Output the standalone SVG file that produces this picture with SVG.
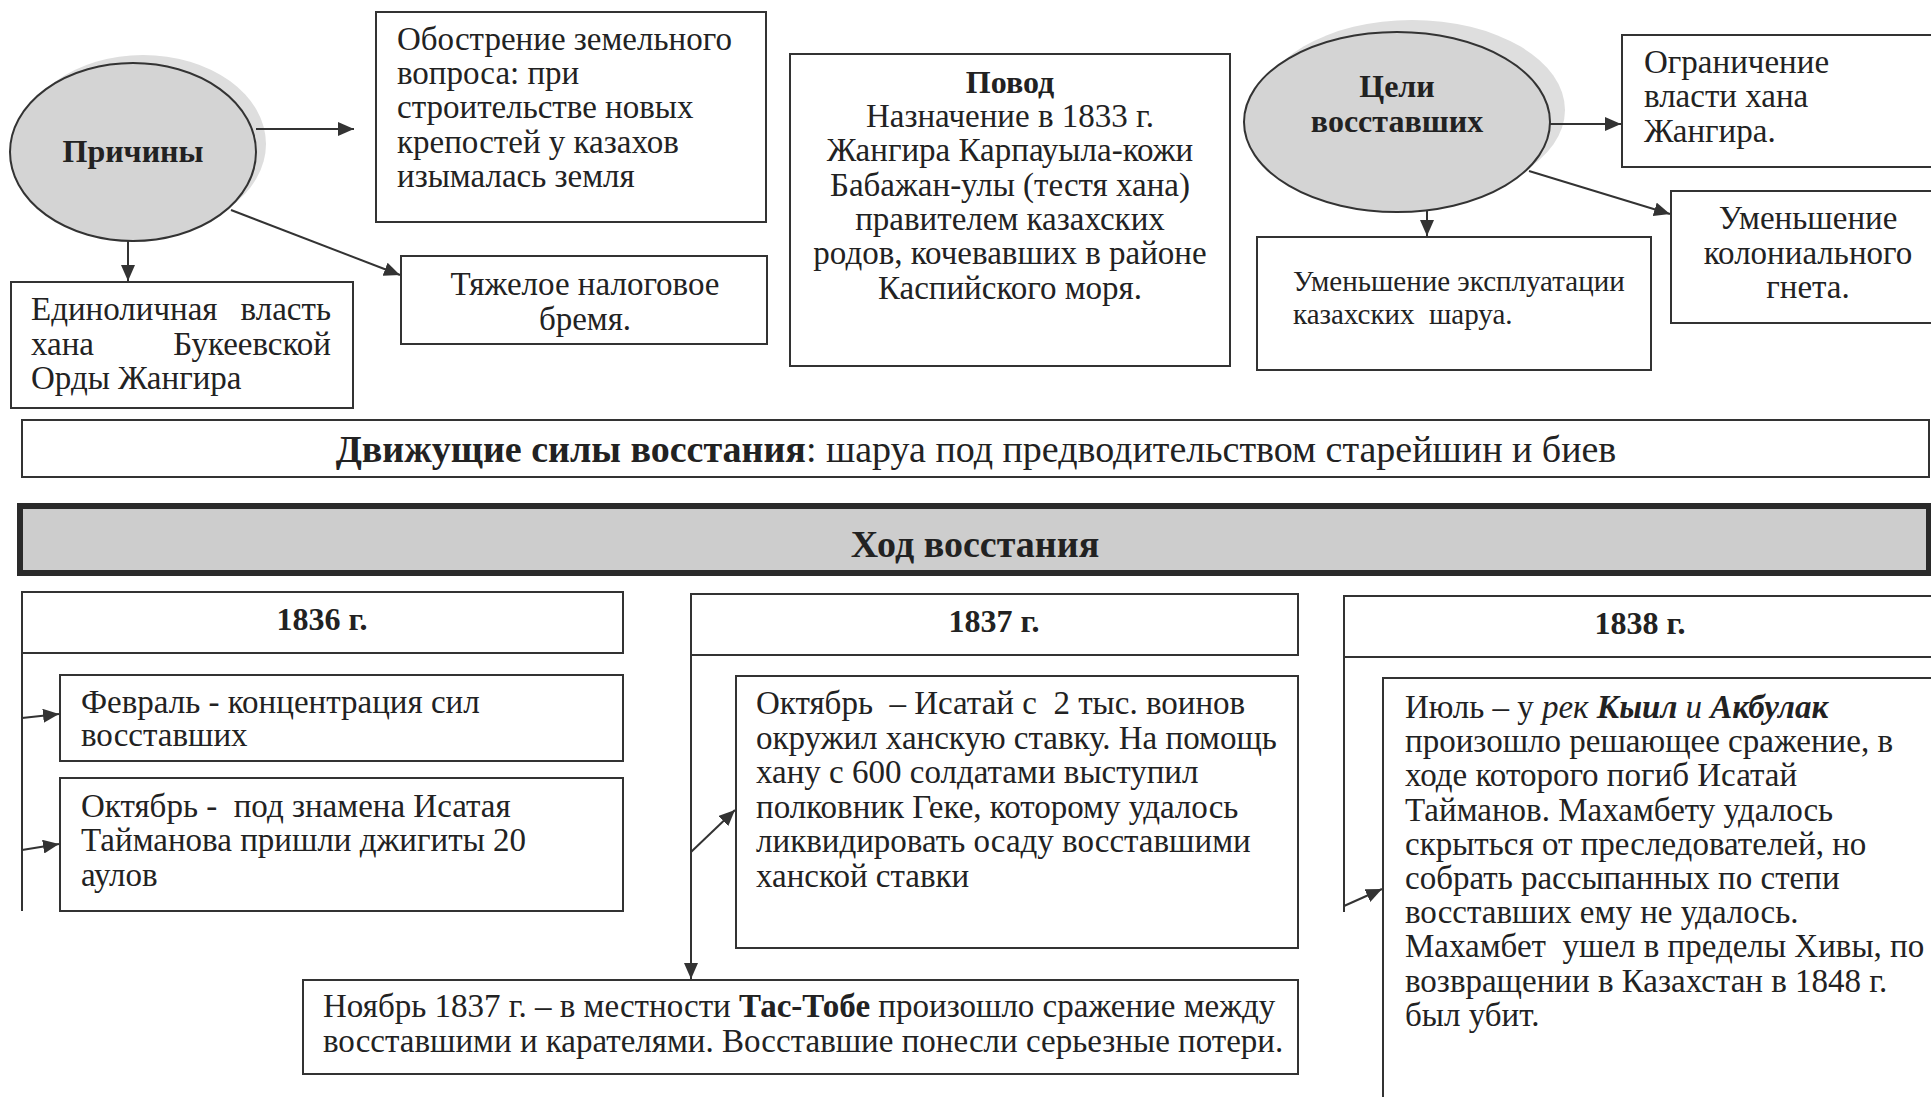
<svg xmlns="http://www.w3.org/2000/svg" width="1931" height="1097" viewBox="0 0 1931 1097">
<defs>
<style>
.t{font-family:"Liberation Serif","Times New Roman",serif;font-size:33px;fill:#222}
.b{font-weight:bold}
.h{font-size:32px}
.i{font-style:italic}
.m{text-anchor:middle}
.e{text-anchor:end}
.box{fill:#fff;stroke:#333;stroke-width:2}
.c{stroke:#333;stroke-width:2;fill:none;marker-end:url(#ah)}
.ln{stroke:#333;stroke-width:2;fill:none}
</style>
<marker id="ah" markerUnits="userSpaceOnUse" markerWidth="16" markerHeight="14" refX="16" refY="7" orient="auto">
<path d="M0,0 L16,7 L0,14 z" fill="#333"/>
</marker>
</defs>
<rect width="1931" height="1097" fill="#fff"/>

<g id="prichiny">
<ellipse cx="143" cy="144" rx="123" ry="89" fill="#dedede"/>
<ellipse cx="133" cy="152" rx="123" ry="89" fill="#d4d4d4" stroke="#333" stroke-width="2"/>
<text class="t b h m" x="133" y="162">Причины</text>
</g>

<g id="obostrenie">
<rect class="box" x="376" y="12" width="390" height="210"/>
<text class="t" x="397" y="50">Обострение земельного</text>
<text class="t" x="397" y="84">вопроса: при</text>
<text class="t" x="397" y="118">строительстве новых</text>
<text class="t" x="397" y="153">крепостей у казахов</text>
<text class="t" x="397" y="187">изымалась земля</text>
</g>

<g id="edinolichnaya">
<rect class="box" x="11" y="282" width="342" height="126"/>
<text class="t" x="31" y="320">Единоличная</text>
<text class="t e" x="331" y="320">власть</text>
<text class="t" x="31" y="355">хана</text>
<text class="t e" x="331" y="355">Букеевской</text>
<text class="t" x="31" y="389">Орды Жангира</text>
</g>

<g id="nalog">
<rect class="box" x="401" y="256" width="366" height="88"/>
<text class="t m" x="585" y="295">Тяжелое налоговое</text>
<text class="t m" x="585" y="330">бремя.</text>
</g>

<g id="povod">
<rect class="box" x="790" y="54" width="440" height="312"/>
<text class="t b h m" x="1010" y="93">Повод</text>
<text class="t m" x="1010" y="127">Назначение в 1833 г.</text>
<text class="t m" x="1010" y="161">Жангира Карпауыла-кожи</text>
<text class="t m" x="1010" y="196">Бабажан-улы (тестя хана)</text>
<text class="t m" x="1010" y="230">правителем казахских</text>
<text class="t m" x="1010" y="264">родов, кочевавших в районе</text>
<text class="t m" x="1010" y="299">Каспийского моря.</text>
</g>

<g id="celi">
<ellipse cx="1412" cy="110" rx="153" ry="90" fill="#dedede"/>
<ellipse cx="1397" cy="122" rx="153" ry="90" fill="#d4d4d4" stroke="#333" stroke-width="2"/>
<text class="t b h m" x="1397" y="97">Цели</text>
<text class="t b h m" x="1397" y="132">восставших</text>
</g>

<g id="ogranichenie">
<rect class="box" x="1622" y="35" width="320" height="132"/>
<text class="t" x="1644" y="73">Ограничение</text>
<text class="t" x="1644" y="107">власти хана</text>
<text class="t" x="1644" y="142">Жангира.</text>
</g>

<g id="ekspluataciya">
<rect class="box" x="1257" y="237" width="394" height="133"/>
<text class="t" x="1293" y="291" style="font-size:29px">Уменьшение эксплуатации</text>
<text class="t" x="1293" y="324" style="font-size:29px" xml:space="preserve">казахских  шаруа.</text>
</g>

<g id="kolonialnyi">
<rect class="box" x="1671" y="191" width="270" height="132"/>
<text class="t m" x="1808" y="229">Уменьшение</text>
<text class="t m" x="1808" y="264">колониального</text>
<text class="t m" x="1808" y="298">гнета.</text>
</g>

<g id="dvizhushchie">
<rect class="box" x="22" y="420" width="1907" height="57"/>
<text class="t m" x="976" y="462" style="font-size:38px"><tspan class="b">Движущие силы восстания</tspan>: шаруа под предводительством старейшин и биев</text>
</g>

<g id="hod">
<rect x="20" y="506" width="1909" height="67" fill="#cdcdcd" stroke="#2a2a2a" stroke-width="6"/>
<text class="t b m" x="975" y="557" style="font-size:38px">Ход восстания</text>
</g>

<g id="y1836">
<rect class="box" x="22" y="592" width="601" height="61"/>
<text class="t b h m" x="322" y="630">1836 г.</text>
</g>
<g id="fevral1836">
<rect class="box" x="60" y="675" width="563" height="86"/>
<text class="t" x="81" y="713">Февраль - концентрация сил</text>
<text class="t" x="81" y="746">восставших</text>
</g>
<g id="oktyabr1836">
<rect class="box" x="60" y="778" width="563" height="133"/>
<text class="t" x="81" y="817" xml:space="preserve">Октябрь -  под знамена Исатая</text>
<text class="t" x="81" y="851">Тайманова пришли джигиты 20</text>
<text class="t" x="81" y="886">аулов</text>
</g>

<g id="y1837">
<rect class="box" x="691" y="594" width="607" height="61"/>
<text class="t b h m" x="994" y="632">1837 г.</text>
</g>
<g id="oktyabr1837">
<rect class="box" x="736" y="676" width="562" height="272"/>
<text class="t" x="756" y="714" xml:space="preserve">Октябрь  – Исатай с  2 тыс. воинов</text>
<text class="t" x="756" y="749">окружил ханскую ставку. На помощь</text>
<text class="t" x="756" y="783">хану с 600 солдатами выступил</text>
<text class="t" x="756" y="818">полковник Геке, которому удалось</text>
<text class="t" x="756" y="852">ликвидировать осаду восставшими</text>
<text class="t" x="756" y="887">ханской ставки</text>
</g>
<g id="noyabr1837">
<rect class="box" x="303" y="980" width="995" height="94"/>
<text class="t" x="323" y="1017">Ноябрь 1837 г. – в местности <tspan class="b">Тас-Тобе</tspan> произошло сражение между</text>
<text class="t" x="323" y="1052">восставшими и карателями. Восставшие понесли серьезные потери.</text>
</g>

<g id="y1838">
<rect class="box" x="1344" y="596" width="600" height="61"/>
<text class="t b h m" x="1640" y="634">1838 г.</text>
</g>
<g id="iyul1838">
<rect class="box" x="1383" y="678" width="560" height="440"/>
<text class="t" x="1405" y="718">Июль – у <tspan class="i">рек </tspan><tspan class="b i">Кыил</tspan><tspan class="i"> и </tspan><tspan class="b i">Акбулак</tspan></text>
<text class="t" x="1405" y="752">произошло решающее сражение, в</text>
<text class="t" x="1405" y="786">ходе которого погиб Исатай</text>
<text class="t" x="1405" y="821">Тайманов. Махамбету удалось</text>
<text class="t" x="1405" y="855">скрыться от преследователей, но</text>
<text class="t" x="1405" y="889">собрать рассыпанных по степи</text>
<text class="t" x="1405" y="923">восставших ему не удалось.</text>
<text class="t" x="1405" y="957" xml:space="preserve">Махамбет  ушел в пределы Хивы, по</text>
<text class="t" x="1405" y="992">возвращении в Казахстан в 1848 г.</text>
<text class="t" x="1405" y="1026">был убит.</text>
</g>

<g id="connectors">
<line class="c" x1="256" y1="129" x2="354" y2="129"/>
<line class="c" x1="128" y1="240" x2="128" y2="281"/>
<line class="c" x1="231" y1="210" x2="400" y2="275"/>
<line class="c" x1="1550" y1="124" x2="1621" y2="124"/>
<line class="c" x1="1427" y1="211" x2="1427" y2="236"/>
<line class="c" x1="1529" y1="171" x2="1670" y2="214"/>
<line class="ln" x1="22" y1="653" x2="22" y2="911"/>
<line class="c" x1="22" y1="718" x2="59" y2="714"/>
<line class="c" x1="22" y1="850" x2="59" y2="844"/>
<line class="c" x1="691" y1="655" x2="691" y2="979"/>
<line class="c" x1="691" y1="852" x2="735" y2="810"/>
<line class="ln" x1="1344" y1="657" x2="1344" y2="912"/>
<line class="c" x1="1344" y1="906" x2="1382" y2="889"/>
</g>
</svg>
